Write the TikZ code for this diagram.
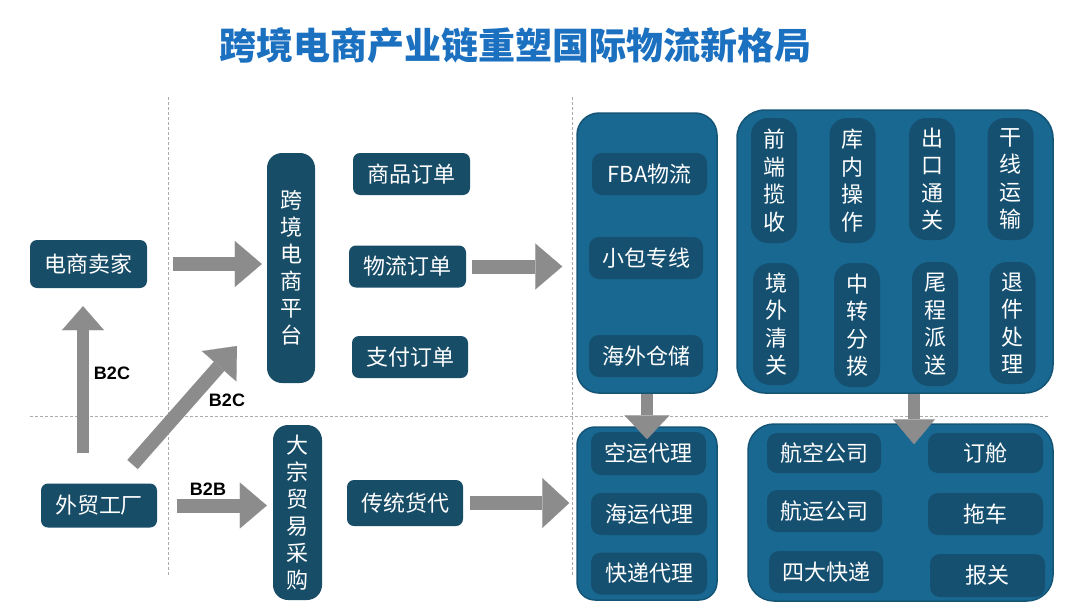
\documentclass[tikz,border=0pt]{standalone}
\usepackage{fontspec}
\newfontfamily\cjk{Noto Sans CJK SC}
\newfontfamily\latinsans{Liberation Sans}
\usepackage{tikz}
\usetikzlibrary{arrows.meta}
\definecolor{boxteal}{RGB}{24,77,104}
\definecolor{panelblue}{RGB}{25,104,145}
\definecolor{panelline}{RGB}{20,84,118}
\definecolor{cellblue}{RGB}{22,80,112}
\definecolor{arrowgray}{RGB}{140,140,140}
\definecolor{titleblue}{RGB}{28,112,192}
\tikzset{
box/.style={ % dark boxes on the white ground
rounded corners=7pt, fill=boxteal, text=white, inner sep=0pt,
font=\cjk\fontsize{22}{27}\selectfont,
minimum width=116pt, minimum height=43pt},
tallbox/.style={box, rounded corners=15pt, minimum width=48pt, align=center},
panel/.style={ % big blue groups
rounded corners=22pt, fill=panelblue, draw=panelline, line width=1.5pt},
pcell/.style={ % boxes inside a group
rounded corners=10pt, fill=cellblue, text=white, inner sep=0pt,
font=\cjk\fontsize{22}{27.5}\selectfont,
minimum width=115pt, minimum height=42pt},
cell/.style={pcell, rounded corners=17pt, minimum width=46pt, align=center},
fat/.style={ % thick gray arrows
draw=arrowgray, line width=14pt,
-{Triangle[width=#1, length=27pt 0 0, line width=0.1pt 0 0]}},
fat/.default={46pt 0 0},
tag/.style={font=\latinsans\bfseries\fontsize{18}{20}\selectfont},
guide/.style={draw=gray!65, dash pattern=on 3pt off 2pt, line width=0.8pt}}

\begin{document}
\begin{tikzpicture}[x=1pt, y=-1pt]
\useasboundingbox (0,0) rectangle (1080,608);
\node[font=\cjk\bfseries\fontsize{37}{40}\selectfont, text=titleblue] (title) at (515,46) {跨境电商产业链重塑国际物流新格局};

% dashed guide lines
\draw[guide] (168,97) -- (168,575);
\draw[guide] (572,97) -- (572,576);
\draw[guide] (30,416) -- (1050,416);

% left side
\node[box, minimum width=117pt, minimum height=48pt] (seller) at (88.5,264) {电商卖家};
\node[box, minimum height=44pt] (factory) at (99,505.5) {外贸工厂};
\node[tallbox, minimum height=230pt] (platform) at (291,268) {跨\\境\\电\\商\\平\\台};
\node[tallbox, minimum width=49pt, minimum height=175pt] (bulk) at (297.5,512.5) {大\\宗\\贸\\易\\采\\购};
\node[box, minimum width=117pt, minimum height=42pt] (goods) at (411.5,174) {商品订单};
\node[box, minimum width=117pt, minimum height=42pt] (logistic) at (407.5,266.5) {物流订单};
\node[box, minimum width=116pt, minimum height=42pt] (payment) at (410,357) {支付订单};
\node[box, minimum height=46pt] (freight) at (405,503) {传统货代};

% blue groups
\node[panel, minimum width=140pt, minimum height=280pt] (lpanel) at (647,253) {};
\node[pcell] (fba) at (649.5,174) {FBA物流};
\node[pcell, minimum width=114pt] (parcel) at (646,258) {小包专线};
\node[pcell, minimum width=114pt] (oversea) at (646,356) {海外仓储};

\node[panel, rounded corners=28pt, minimum width=316pt, minimum height=283pt] (rpanel) at (895,251.5) {};
\node[cell, minimum height=125pt] (pickup) at (774,180.5) {前\\端\\揽\\收};
\node[cell, minimum height=125pt] (storage) at (852.5,180.5) {库\\内\\操\\作};
\node[cell, minimum height=122pt] (export) at (932,179) {出\\口\\通\\关};
\node[cell, minimum height=122pt] (trunk) at (1010.5,179) {干\\线\\运\\输};
\node[cell, minimum height=122pt] (clear) at (776,324) {境\\外\\清\\关};
\node[cell, minimum height=124pt] (hub) at (857,325) {中\\转\\分\\拨};
\node[cell, minimum height=124pt] (lastmile) at (935,324) {尾\\程\\派\\送};
\node[cell, minimum height=122pt] (returns) at (1012.5,323) {退\\件\\处\\理};

\node[panel, rounded corners=18pt, minimum width=140pt, minimum height=173pt] (blpanel) at (647,513.5) {};
\node[pcell, minimum height=43pt] (air) at (648.5,453.5) {空运代理};
\node[pcell, minimum width=116pt] (sea) at (649,514) {海运代理};
\node[pcell, minimum width=116pt] (express) at (649,573.5) {快递代理};

\node[panel, rounded corners=26pt, minimum width=305pt, minimum height=177pt] (brpanel) at (900.5,512.5) {};
\node[pcell, minimum width=114pt, minimum height=40pt] (airline) at (824,453) {航空公司};
\node[pcell, minimum width=115pt] (shipline) at (824.5,511) {航运公司};
\node[pcell, minimum width=114pt] (fourbig) at (826,572) {四大快递};
\node[pcell, minimum height=40pt] (booking) at (985.5,453) {订舱};
\node[pcell] (truck) at (985.5,514) {拖车};
\node[pcell, minimum height=43pt] (customs) at (987.5,575.5) {报关};

% arrows
\coordinate (b2ctip) at (237,346);
\draw[fat, shorten <=26pt, shorten >=5pt] (seller.east) -- (seller.east -| platform.west);
\draw[fat, line width=12pt, -{Triangle[width=42pt 0 0, length=24pt 0 0, line width=0.1pt 0 0]}, shorten <=30pt, shorten >=18pt] ([xshift=-16pt]factory.north) -- ([xshift=-16pt]factory.north |- seller.south);
\draw[fat, shorten <=25pt] ([xshift=17pt]factory.north) -- (b2ctip);
\draw[fat, shorten <=20pt, shorten >=6pt] (factory.east) -- (factory.east -| bulk.west);
\draw[fat, shorten <=6pt, shorten >=14pt] (logistic.east) -- (logistic.east -| lpanel.west);
\draw[fat=50pt 0 0, shorten <=7pt, shorten >=7pt] (freight.east) -- (freight.east -| blpanel.west);
\draw[fat, line width=12pt, -{Triangle[width=45pt 0 0, length=24pt 0 0, line width=0.1pt 0 0]}, shorten >=-13pt] (lpanel.south) -- (blpanel.north);
\draw[fat, line width=12pt, -{Triangle[width=42pt 0 0, length=25pt 0 0, line width=0.1pt 0 0]}, shorten >=-21pt] ([xshift=19pt]rpanel.south) -- ([xshift=19pt]rpanel.south |- brpanel.north);

% labels
\node[tag] (upb2c) at (112,373) {B2C};
\node[tag] (diagb2c) at (227,400) {B2C};
\node[tag] (b2b) at (208,489) {B2B};
\end{tikzpicture}
\end{document}
